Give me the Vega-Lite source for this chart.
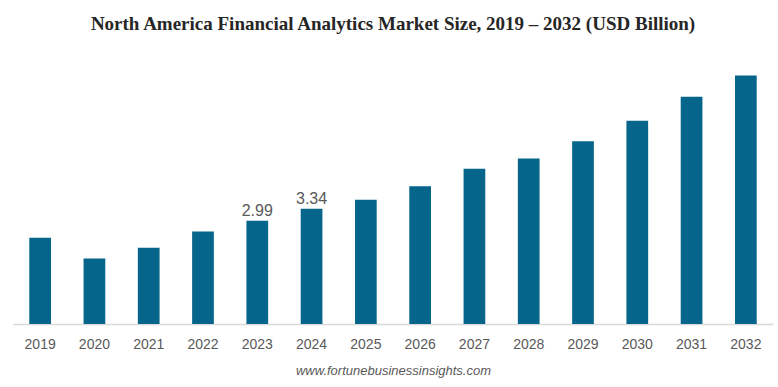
{
  "$schema": "https://vega.github.io/schema/vega-lite/v6.json",
  "width": 760,
  "height": 276,
  "autosize": "none",
  "padding": {"left": 13, "top": 48, "right": 5, "bottom": 63},
  "background": "white",
  "title": {
    "text": "North America Financial Analytics Market Size, 2019 – 2032 (USD Billion)",
    "font": "Liberation Serif",
    "fontSize": 19,
    "fontWeight": "bold",
    "color": "#262626",
    "anchor": "middle",
    "offset": 14
  },
  "data": {
    "values": [
      {"year": "2019", "value": 2.50, "label": ""},
      {"year": "2020", "value": 1.90, "label": ""},
      {"year": "2021", "value": 2.21, "label": ""},
      {"year": "2022", "value": 2.68, "label": ""},
      {"year": "2023", "value": 2.99, "label": "2.99"},
      {"year": "2024", "value": 3.34, "label": "3.34"},
      {"year": "2025", "value": 3.60, "label": ""},
      {"year": "2026", "value": 3.99, "label": ""},
      {"year": "2027", "value": 4.50, "label": ""},
      {"year": "2028", "value": 4.80, "label": ""},
      {"year": "2029", "value": 5.30, "label": ""},
      {"year": "2030", "value": 5.89, "label": ""},
      {"year": "2031", "value": 6.59, "label": ""},
      {"year": "2032", "value": 7.20, "label": ""}
    ]
  },
  "config": {"view": {"stroke": null}},
  "encoding": {
    "x": {
      "field": "year",
      "type": "nominal",
      "sort": null,
      "scale": {"paddingInner": 0.6, "paddingOuter": 0.3},
      "axis": {
        "title": "www.fortunebusinessinsights.com",
        "titleFont": "Liberation Sans",
        "titleFontSize": 13,
        "titleFontStyle": "italic",
        "titleFontWeight": "normal",
        "titleColor": "#595959",
        "titlePadding": 13,
        "labelAngle": 0,
        "labelFont": "Liberation Sans",
        "labelFontSize": 14,
        "labelColor": "#595959",
        "labelPadding": 13,
        "ticks": false,
        "domainColor": "#d9d9d9",
        "domainWidth": 1.5,
        "grid": false
      }
    },
    "y": {
      "field": "value",
      "type": "quantitative",
      "scale": {"domain": [0, 8], "nice": false},
      "axis": null
    }
  },
  "layer": [
    {"mark": {"type": "bar", "color": "#05658B"}},
    {
      "mark": {"type": "text", "dy": -10, "font": "Liberation Sans", "fontSize": 16, "color": "#595959"},
      "encoding": {"text": {"field": "label"}}
    }
  ]
}
